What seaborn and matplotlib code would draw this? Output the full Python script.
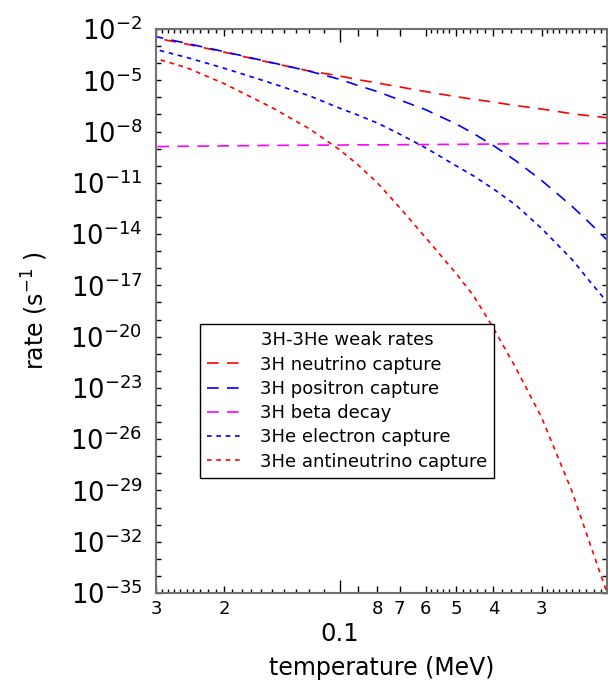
import numpy as np
import pandas as pd
import matplotlib
matplotlib.use("Agg")
import matplotlib.pyplot as plt
import seaborn as sns
from matplotlib.ticker import NullLocator

# ---------------- data (log10 of rate in s^-1) ----------------
temperature = [0.3, 0.25, 0.2, 0.15, 0.12, 0.1, 0.09, 0.08, 0.07, 0.06,
               0.05, 0.045, 0.04, 0.035, 0.03, 0.025, 0.0225, 0.02]

log_3H_neutrino_capture = [-2.53, -2.88, -3.35, -3.99, -4.46, -4.75, -4.96, -5.16, -5.39, -5.66,
                           -5.96, -6.11, -6.28, -6.48, -6.68, -6.96, -7.08, -7.21]
log_3H_positron_capture = [-2.45, -2.84, -3.32, -3.97, -4.47, -4.95, -5.30, -5.66, -6.15, -6.72,
                           -7.55, -8.12, -8.82, -9.71, -10.86, -12.38, -13.35, -14.49]
log_3H_beta_decay = [-8.88, -8.86, -8.84, -8.81, -8.80, -8.79, -8.78, -8.78, -8.77, -8.76,
                     -8.75, -8.74, -8.73, -8.72, -8.71, -8.70, -8.70, -8.69]
log_3He_electron_capture = [-3.20, -3.66, -4.29, -5.18, -5.91, -6.64, -7.03, -7.50, -8.15, -8.95,
                            -10.00, -10.60, -11.36, -12.30, -13.67, -15.49, -16.76, -18.15]
log_3He_antineutrino_capture = [-3.73, -4.26, -5.19, -6.60, -7.84, -9.08, -9.93, -11.00, -12.45, -14.20,
                                -16.30, -17.62, -19.50, -21.83, -24.73, -29.07, -32.08, -35.41]

labels = ["3H neutrino capture", "3H positron capture", "3H beta decay",
          "3He electron capture", "3He antineutrino capture"]
colors = ["#ff0000", "#0000ff", "#ff00ff", "#0000ff", "#ff0000"]
long_dash = (0, (7, 5))
short_dash = (0, (2.8, 2.8))
styles = [long_dash, long_dash, long_dash, short_dash, short_dash]
series = [log_3H_neutrino_capture, log_3H_positron_capture, log_3H_beta_decay,
          log_3He_electron_capture, log_3He_antineutrino_capture]

# x tick labels
x_major = [0.3, 0.2, 0.1, 0.09, 0.08, 0.07, 0.06, 0.05, 0.04, 0.03]
x_major_labels = ["3", "2", "", "", "8", "7", "6", "5", "4", "3"]

# ---------------- style ----------------
sns.set_theme(style="white")
plt.rcParams["font.family"] = ["DejaVu Sans"]
plt.rcParams["mathtext.fontset"] = "dejavusans"
plt.rcParams["text.color"] = "black"
plt.rcParams["axes.labelcolor"] = "black"
plt.rcParams["xtick.color"] = "black"
plt.rcParams["ytick.color"] = "black"

fig = plt.figure(figsize=(6.08, 6.82), dpi=100)
ax = fig.add_axes([156 / 608, 89 / 682, 451 / 608, 564 / 682])

for lab, vals, col, ls in zip(labels, series, colors, styles):
    df = pd.DataFrame({"T": temperature, "rate": 10.0 ** np.array(vals)})
    sns.lineplot(data=df, x="T", y="rate", ax=ax, color=col, linestyle=ls,
                 linewidth=1.2, label=lab, sort=True)

ax.set_xscale("log")
ax.set_yscale("log")
ax.set_xlim(0.3, 0.0203)
ax.set_ylim(1e-35, 1e-2)

# y ticks: every decade, labels every third
exps = list(range(2, 36))
ax.set_yticks([10.0 ** -k for k in exps])
ax.set_yticklabels([rf"$10^{{-{k}}}$" if (k - 2) % 3 == 0 else "" for k in exps])
ax.yaxis.set_minor_locator(NullLocator())

# x ticks
minor_raw = np.concatenate([np.arange(0.21, 0.295, 0.01), np.arange(0.11, 0.195, 0.01),
                            np.arange(0.032, 0.059, 0.002), np.arange(0.021, 0.0295, 0.001)])
major_set = set(np.round(x_major, 4))
x_minor = sorted(v for v in set(np.round(minor_raw, 4)) if v not in major_set)
ax.set_xticks(x_major)
ax.set_xticklabels(x_major_labels)
ax.set_xticks(x_minor, minor=True)
ax.xaxis.set_minor_formatter(plt.NullFormatter())

ax.tick_params(axis="both", which="both", direction="in", top=True, right=True,
               bottom=True, left=True, color="black", labelcolor="black", width=1)
ax.tick_params(axis="x", which="major", length=5, labelsize=13, pad=5)
ax.tick_params(axis="x", which="minor", length=2.9)
ax.tick_params(axis="y", which="major", length=3.6, labelsize=18.5, pad=10)

# longer tick at 0.1
for t, v in zip(ax.xaxis.get_major_ticks(), x_major):
    if v == 0.1:
        t.tick1line.set_markersize(9.4)
        t.tick2line.set_markersize(9.0)

for s in ax.spines.values():
    s.set_color("#707070")
    s.set_linewidth(1.5)

ax.text(0.1, -0.0514, "0.1", transform=ax.get_xaxis_transform(), ha="center",
        va="top", fontsize=17.5, color="black")

ax.set_xlabel("temperature (MeV)", fontsize=17, color="black")
ax.xaxis.set_label_coords(0.5, -0.112)
ax.set_ylabel(r"rate (s$^{-1}$ )", fontsize=17, color="black")
ax.yaxis.set_label_coords(-0.235, 0.5)

leg = ax.legend(title="3H-3He weak rates", loc="upper left", bbox_to_anchor=(0.0976, 0.477),
                borderaxespad=0, frameon=True, fancybox=False, framealpha=1,
                edgecolor="black", fontsize=13, title_fontsize=13, handlelength=1.9,
                handletextpad=1.0, labelspacing=0.35, borderpad=0.4)
leg.get_frame().set_linewidth(1.0)
for txt in leg.get_texts():
    txt.set_color("black")
leg.get_title().set_color("black")

fig.savefig("out.png", dpi=100)
